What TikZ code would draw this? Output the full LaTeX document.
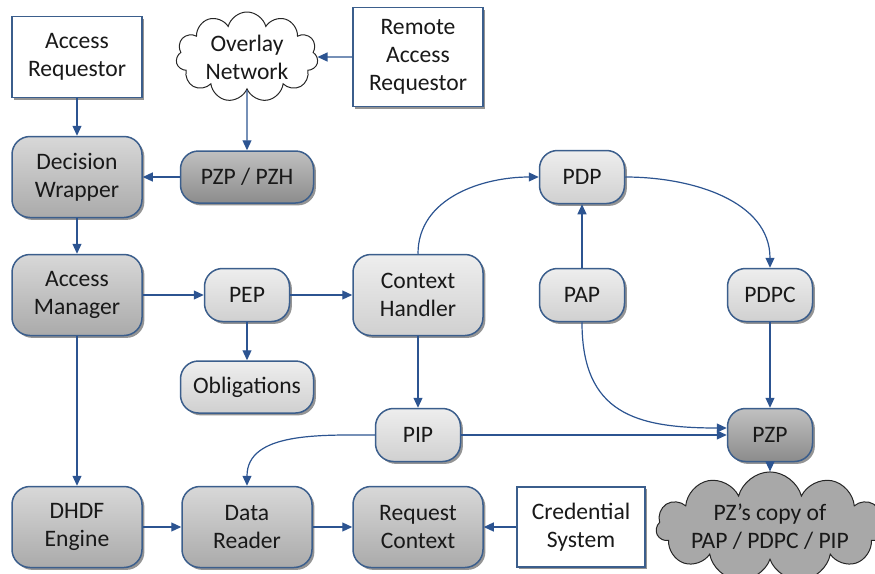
\documentclass[tikz,border=0pt]{standalone}
\usepackage{fontspec}
\setmainfont{Carlito}
\usepackage{xcolor}
\usepackage{tikz}
\usetikzlibrary{arrows.meta,shapes.symbols,shadows}

\definecolor{edgeblue}{HTML}{3B5E8C}
\definecolor{arrowblue}{HTML}{2C5491}
\definecolor{lighttop}{HTML}{EEEEEE}
\definecolor{lightbot}{HTML}{D0D0D0}
\definecolor{midtop}{HTML}{D8D8D8}
\definecolor{midbot}{HTML}{AAAAAA}
\definecolor{darktop}{HTML}{C0C0C0}
\definecolor{darkbot}{HTML}{8C8C8C}
\definecolor{cloudgray}{HTML}{A8A8A8}

\tikzset{
	every node/.style={font=\fontsize{11.8}{14}\selectfont, align=center, text=black!90},
	boxshadow/.style={drop shadow={shadow xshift=1.2pt, shadow yshift=-1.2pt, fill=black!70, opacity=0.6}},
	roundbox/.style={draw=edgeblue, line width=0.75pt, rounded corners=9pt, inner sep=0pt, boxshadow},
	lightbox/.style={roundbox, top color=lighttop, bottom color=lightbot},
	midbox/.style={roundbox, top color=midtop, bottom color=midbot},
	darkbox/.style={roundbox, top color=darktop, bottom color=darkbot},
	plainbox/.style={draw=edgeblue, line width=0.75pt, fill=white, inner sep=0pt, boxshadow},
	bigsize/.style={minimum width=65pt, minimum height=40.5pt},
	longsize/.style={minimum width=66.5pt, minimum height=26pt},
	smallsize/.style={minimum width=42.5pt, minimum height=26.5pt},
	puff/.style={cloud, cloud puffs=11, cloud ignores aspect, draw=black!85, line width=0.5pt, inner sep=0pt},
	link/.style={-{Triangle[length=5pt,width=4.5pt]}, draw=arrowblue, line width=0.6pt},
}

\begin{document}
\begin{tikzpicture}[x=0.5pt, y=-0.5pt]
		\useasboundingbox (0,0) rectangle (875,574);
		\clip (0,0) rectangle (875,574);
		% requestors
		\node[plainbox, bigsize] (ar) at (77,57) {Access\\Requestor};
		\node[puff, fill=white, minimum width=71pt, minimum height=45pt] (overlay) at (247,57) {Overlay\\Network};
		\node[plainbox, minimum width=65pt, minimum height=49.5pt] (rar) at (418,57) {Remote\\Access\\Requestor};
		\node[midbox, bigsize] (dw) at (77,177) {Decision\\Wrapper};
		\node[darkbox, longsize] (pzph) at (247,177) {PZP / PZH};
		\node[lightbox, smallsize] (pdp) at (582,177) {PDP};
		% middle row
		\node[midbox, bigsize] (am) at (77,295) {Access\\Manager};
		\node[lightbox, smallsize] (pep) at (247,295) {PEP};
		\node[lightbox, bigsize] (ch) at (418,295) {Context\\Handler};
		\node[lightbox, smallsize] (pap) at (582,295) {PAP};
		\node[lightbox, smallsize] (pdpc) at (770,295) {PDPC};
		\node[lightbox, longsize] (obl) at (247,387) {Obligations};
		\node[lightbox, smallsize] (pip) at (418,435) {PIP};
		\node[darkbox, smallsize] (pzp) at (770,435) {PZP};
		% bottom row
		\node[midbox, bigsize] (dhdf) at (77,527) {DHDF\\Engine};
		\node[midbox, bigsize] (dr) at (247,527) {Data\\Reader};
		\node[midbox, bigsize] (rc) at (418,527) {Request\\Context};
		\node[plainbox, minimum width=64pt, minimum height=40pt] (cs) at (581,527) {Credential\\System};
		\node[puff, fill=cloudgray, minimum width=113pt, minimum height=49pt] (pzc) at (770,527) {PZ’s copy of\\PAP / PDPC / PIP};
		% connectors
		\draw[link] (ar) -- (dw);
		\draw[link] (rar) -- (overlay);
		\draw[link] (overlay) -- (pzph);
		\draw[link] (pzph) -- (dw);
		\draw[link] (dw) -- (am);
		\draw[link] (am) -- (pep);
		\draw[link] (pep) -- (ch);
		\draw[link] (pep) -- (obl);
		\draw[link] (ch.north) to[out=90, in=180] (pdp.west);
		\draw[link] (pdp.east) to[out=0, in=90] (pdpc.north);
		\draw[link] (pap) -- (pdp);
		\draw[link] (pdpc) -- (pzp);
		\draw[link] (pap.south) to[out=-90, in=180, looseness=1.3] ([yshift=3.5pt]pzp.west);
		\draw[link] (ch) -- (pip);
		\draw[link] (pip) -- (pzp);
		\draw[link] (pip.west) to[out=180, in=90] (dr.north);
		\draw[link] (am) -- (dhdf);
		\draw[link] (dhdf) -- (dr);
		\draw[link] (dr) -- (rc);
		\draw[link] (cs) -- (rc);
		\draw[link] (pzp) -- (pzc);
	\end{tikzpicture}
\end{document}
